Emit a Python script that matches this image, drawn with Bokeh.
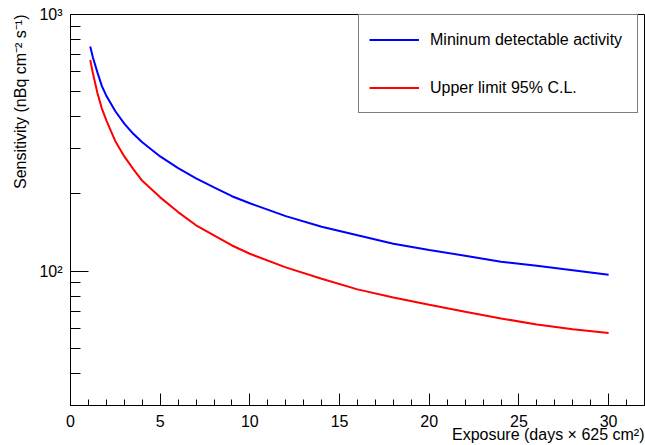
import math
from bokeh.plotting import figure
from bokeh.models import (Range1d, FixedTicker, Legend, LegendItem, Title)
from bokeh.embed import file_html
from bokeh.resources import INLINE

# ---- data ----
exposure = [1.1, 1.25, 1.5, 1.75, 2, 2.25, 2.5, 3, 3.5, 4, 5, 6, 7, 8, 9, 10, 12, 14, 16, 18, 20, 22, 24, 26, 28, 30]
mda = [750, 680, 595, 526, 482, 450, 420, 376, 343, 318, 280, 252, 230, 212, 196, 184, 164, 149, 138, 128, 121, 115, 109, 105, 101, 97]
upper_limit = [665, 590, 495, 430, 387, 352, 321, 280, 250, 225, 194, 170, 151, 138, 126, 117, 103.5, 93.5, 85, 79, 74, 69.5, 65.5, 62, 59.5, 57.5]

series_names = ["Mininum detectable activity", "Upper limit 95% C.L."]
x_major_ticks = [0, 5, 10, 15, 20, 25, 30]
x_minor_ticks = list(range(0, 33))
y_major_ticks = [100, 1000]
y_major_labels = ["10²", "10³"]
y_minor_ticks = [40, 50, 60, 70, 80, 90, 200, 300, 400, 500, 600, 700, 800, 900]
x_title = "Exposure (days × 625 cm²)"
y_title = "Sensitivity (nBq cm⁻² s⁻¹)"

X_MIN, X_MAX = 0, 32
Y_MIN, Y_MAX = 30, 1000

FONT = "Liberation Sans"
FS = "16px"

W, H = 645, 445
BL, BR, BT, BB = 70, 1, 14, 40

p = figure(width=W, height=H, output_backend="svg", toolbar_location=None,
           x_range=Range1d(X_MIN, X_MAX), y_range=Range1d(Y_MIN, Y_MAX), y_axis_type="log",
           min_border_left=BL, min_border_right=BR, min_border_top=BT, min_border_bottom=BB)
p.background_fill_color = "white"
p.border_fill_color = "white"
p.outline_line_color = "black"
p.outline_line_width = 1
p.grid.visible = False

r1 = p.line(exposure, mda, line_color="#0000ff", line_width=2)
r2 = p.line(exposure, upper_limit, line_color="#ff0000", line_width=2)

xa = p.xaxis[0]
xa.ticker = FixedTicker(ticks=x_major_ticks, minor_ticks=x_minor_ticks)
xa.major_tick_in = 12
xa.major_tick_out = 0
xa.minor_tick_in = 6
xa.minor_tick_out = 0
xa.major_label_standoff = 9
xa.major_label_text_font = FONT
xa.major_label_text_font_size = FS
xa.major_label_text_color = "black"
xa.axis_line_color = "black"

ya = p.yaxis[0]
ya.ticker = FixedTicker(ticks=y_major_ticks, minor_ticks=y_minor_ticks)
ya.major_label_overrides = {t: lab for t, lab in zip(y_major_ticks, y_major_labels)}
ya.major_tick_in = 18
ya.major_tick_out = 0
ya.minor_tick_in = 10
ya.minor_tick_out = 0
ya.major_label_standoff = 8
ya.major_label_text_font = FONT
ya.major_label_text_font_size = FS
ya.major_label_text_color = "black"
ya.axis_line_color = "black"

# axis titles (ROOT style: aligned to the end of the axis)
xt = Title(text=x_title, align="right", vertical_align="top", offset=0,
           text_font=FONT, text_font_size=FS, text_font_style="normal", text_color="black")
try:
    xt.standoff = -8
except Exception:
    xt.standoff = 0
p.add_layout(xt, "below")

yt = Title(text=y_title, align="right", vertical_align="bottom", offset=0, standoff=15,
           text_font=FONT, text_font_size=FS, text_font_style="normal", text_color="black")
p.add_layout(yt, "left")

legend = Legend(items=[LegendItem(label=series_names[0], renderers=[r1]),
                       LegendItem(label=series_names[1], renderers=[r2])],
                location=(288, 292), orientation="vertical")
legend.border_line_color = "black"
legend.border_line_width = 1
legend.background_fill_color = "white"
legend.background_fill_alpha = 1.0
legend.padding = 10
legend.spacing = 19
legend.margin = 0
legend.glyph_width = 50
legend.glyph_height = 29
legend.label_height = 29
legend.label_width = 197
legend.label_standoff = 11
legend.label_text_font = FONT
legend.label_text_font_size = FS
legend.label_text_color = "black"
p.add_layout(legend)

open("out.html", "w").write(file_html(p, INLINE))
